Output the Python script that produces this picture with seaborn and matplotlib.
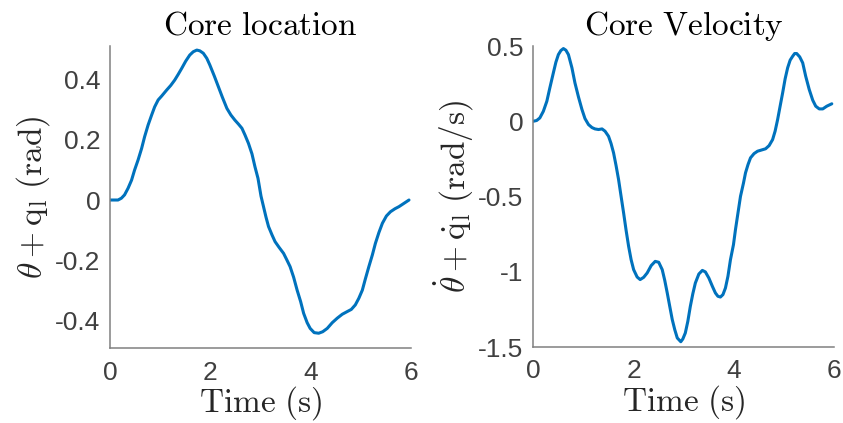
import numpy as np
import pandas as pd
import matplotlib
matplotlib.use("Agg")
import matplotlib.pyplot as plt
import seaborn as sns

# Core location trajectory, theta + q_l (rad)
loc_t = [0.0, 0.06, 0.16, 0.227, 0.29, 0.36, 0.43, 0.49, 0.56, 0.63, 0.69, 0.76,
         0.83, 0.89, 0.96, 1.03, 1.13, 1.21, 1.29, 1.36, 1.43, 1.51, 1.59, 1.66,
         1.73, 1.79, 1.86, 1.93, 1.99, 2.08, 2.16, 2.24, 2.33, 2.41, 2.49, 2.56,
         2.63, 2.69, 2.76, 2.83, 2.89, 2.95, 3.01, 3.06, 3.11, 3.16, 3.23, 3.29,
         3.37, 3.46, 3.52, 3.59, 3.66, 3.73, 3.80, 3.86, 3.93, 3.99, 4.07, 4.16,
         4.24, 4.33, 4.43, 4.53, 4.63, 4.73, 4.81, 4.89, 4.96, 5.03, 5.09, 5.16,
         5.23, 5.29, 5.36, 5.43, 5.51, 5.59, 5.68, 5.76, 5.86, 5.96]
loc_v = [0.0, 0.0, 0.0, 0.006, 0.017, 0.039, 0.066, 0.0995, 0.133, 0.171, 0.210,
         0.249, 0.282, 0.309, 0.332, 0.345, 0.365, 0.380, 0.398, 0.417, 0.437,
         0.461, 0.481, 0.492, 0.4975, 0.495, 0.487, 0.470, 0.448, 0.411, 0.376,
         0.341, 0.304, 0.282, 0.265, 0.252, 0.238, 0.216, 0.188, 0.153, 0.110,
         0.072, 0.013, -0.022, -0.057, -0.088, -0.116, -0.138, -0.157, -0.177,
         -0.197, -0.221, -0.256, -0.299, -0.337, -0.376, -0.407, -0.426, -0.440,
         -0.442, -0.437, -0.426, -0.407, -0.392, -0.379, -0.370, -0.363, -0.348,
         -0.326, -0.299, -0.262, -0.221, -0.182, -0.144, -0.108, -0.077, -0.053,
         -0.039, -0.029, -0.022, -0.011, 0.0]

# Core velocity trajectory (rad/s)
vel_t = [0.0, 0.067, 0.13, 0.20, 0.27, 0.33, 0.40, 0.45, 0.50, 0.55, 0.60, 0.65,
         0.70, 0.77, 0.83, 0.90, 0.97, 1.03, 1.10, 1.17, 1.23, 1.30, 1.37, 1.43,
         1.50, 1.55, 1.60, 1.65, 1.70, 1.75, 1.80, 1.85, 1.90, 1.95, 2.00, 2.07,
         2.13, 2.20, 2.27, 2.35, 2.43, 2.50, 2.57, 2.62, 2.67, 2.72, 2.77, 2.82,
         2.87, 2.94, 2.98, 3.03, 3.08, 3.13, 3.18, 3.23, 3.30, 3.37, 3.43, 3.50,
         3.57, 3.63, 3.68, 3.73, 3.78, 3.83, 3.88, 3.93, 3.99, 4.03, 4.08, 4.13,
         4.19, 4.23, 4.28, 4.33, 4.40, 4.47, 4.56, 4.63, 4.70, 4.77, 4.82, 4.87,
         4.92, 4.97, 5.02, 5.07, 5.12, 5.17, 5.21, 5.25, 5.31, 5.37, 5.43, 5.50,
         5.57, 5.63, 5.70, 5.77, 5.85, 5.95]
vel_v = [0.0, 0.005, 0.022, 0.066, 0.133, 0.222, 0.322, 0.392, 0.443, 0.470, 0.483,
         0.472, 0.443, 0.355, 0.255, 0.162, 0.078, 0.018, -0.022, -0.042, -0.051,
         -0.055, -0.051, -0.066, -0.100, -0.148, -0.210, -0.295, -0.388, -0.499,
         -0.609, -0.725, -0.831, -0.920, -0.986, -1.035, -1.052, -1.037, -1.008,
         -0.959, -0.931, -0.937, -0.986, -1.057, -1.141, -1.230, -1.318, -1.385,
         -1.440, -1.465, -1.447, -1.407, -1.330, -1.230, -1.146, -1.075, -1.015,
         -0.991, -1.001, -1.042, -1.097, -1.141, -1.163, -1.168, -1.152, -1.108,
         -1.030, -0.920, -0.820, -0.720, -0.609, -0.499, -0.410, -0.343, -0.288,
         -0.243, -0.215, -0.199, -0.190, -0.183, -0.162, -0.122, -0.066, 0.011,
         0.100, 0.188, 0.282, 0.355, 0.406, 0.432, 0.450, 0.450, 0.428, 0.388,
         0.299, 0.211, 0.140, 0.100, 0.082, 0.082, 0.100, 0.116]

x_ticks = [0, 2, 4, 6]
loc_ticks = [-0.4, -0.2, 0, 0.2, 0.4]
loc_labels = ["-0.4", "-0.2", "0", "0.2", "0.4"]
vel_ticks = [-1.5, -1, -0.5, 0, 0.5]
vel_labels = ["-1.5", "-1", "-0.5", "0", "0.5"]

sns.set_theme(style="white")
plt.rcParams["font.family"] = ["Liberation Sans", "DejaVu Sans"]
plt.rcParams["mathtext.fontset"] = "cm"

line_color = "#0072BD"
axis_color = "#808080"
tick_text = "#404040"
label_size = 24

fig = plt.figure(figsize=(8.43, 4.23), dpi=100)
ax1 = fig.add_axes([110 / 843, 1 - 348 / 423, 301 / 843, 302 / 423])
ax2 = fig.add_axes([533.3 / 843, 1 - 347 / 423, 301 / 843, 301 / 423])

df_loc = pd.DataFrame({"t": loc_t, "v": loc_v})
df_vel = pd.DataFrame({"t": vel_t, "v": vel_v})

sns.lineplot(data=df_loc, x="t", y="v", ax=ax1, color=line_color, linewidth=2.2)
sns.lineplot(data=df_vel, x="t", y="v", ax=ax2, color=line_color, linewidth=2.2)

panels = [
    (ax1, (-0.491, 0.511), loc_ticks, loc_labels, r"$\mathrm{Core\ location}$",
     r"$\theta + \mathrm{q}_\mathrm{l}\ (\mathrm{rad})$"),
    (ax2, (-1.5, 0.5), vel_ticks, vel_labels, r"$\mathrm{Core\ Velocity}$",
     r"$\dot{\theta} + \dot{\mathrm{q}}_\mathrm{l}\ (\mathrm{rad/s})$"),
]

for ax, ylim, yt, yl, title, ylabel in panels:
    ax.set_xlim(0, 6)
    ax.set_ylim(*ylim)
    ax.set_xticks(x_ticks)
    ax.set_xticklabels([str(v) for v in x_ticks])
    ax.set_yticks(yt)
    ax.set_yticklabels(yl)
    ax.set_title(title, fontsize=label_size, color="#000000", pad=8)
    ax.set_xlabel(r"$\mathrm{Time\ (s)}$", fontsize=label_size, color="#262626",
                  labelpad=0)
    ax.set_ylabel(ylabel, fontsize=label_size, color="#262626", labelpad=2)
    for side in ("top", "right"):
        ax.spines[side].set_visible(False)
    for side in ("left", "bottom"):
        ax.spines[side].set_color(axis_color)
        ax.spines[side].set_linewidth(1.1)
    ax.tick_params(axis="both", direction="in", length=4, width=1.0,
                   color=axis_color, labelcolor=tick_text, labelsize=19, pad=7)
    ax.tick_params(axis="x", pad=9)

fig.savefig("out.png", dpi=100)
